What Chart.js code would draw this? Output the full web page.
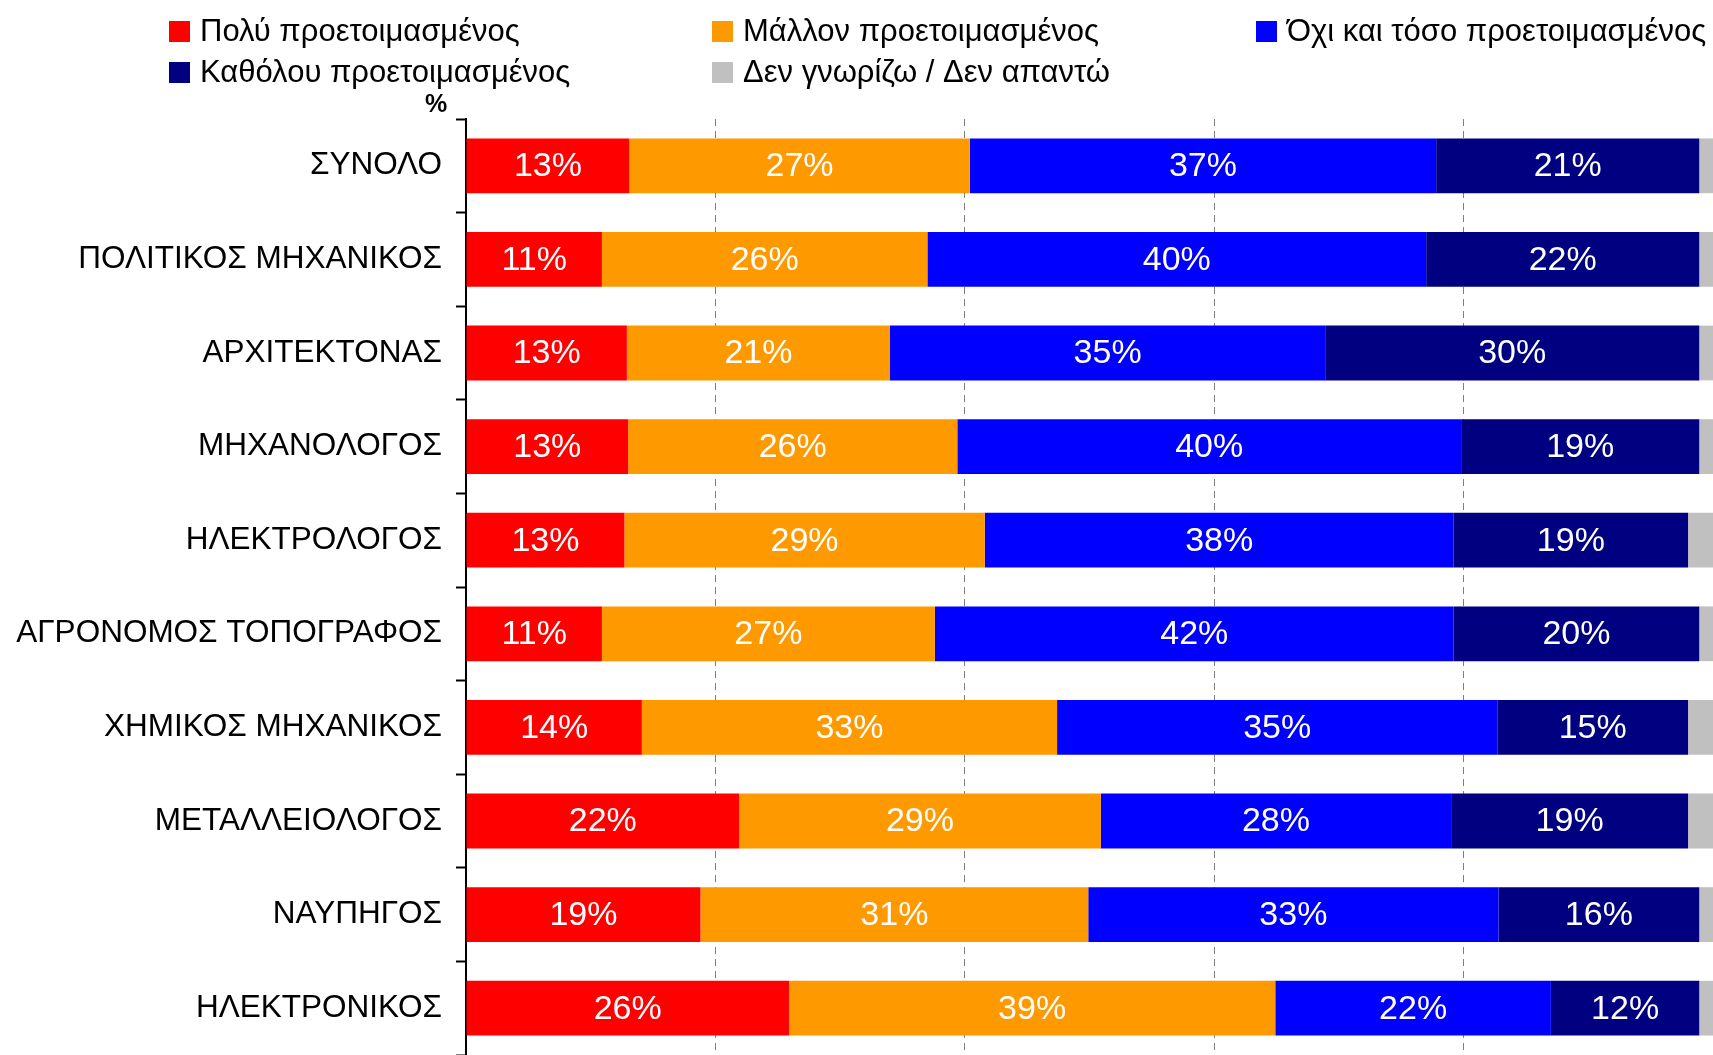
<!DOCTYPE html>
<html>
<head>
<meta charset="utf-8">
<script src="https://cdn.jsdelivr.net/npm/chart.js@4/dist/chart.umd.min.js"></script>
<style>
  html, body { margin: 0; padding: 0; background: #fff; }
  #wrap { width: 1713px; height: 1055px; position: relative; }
</style>
</head>
<body>
<div id="wrap"><canvas id="grafico"></canvas></div>
<script>
// categorias (eixo vertical)
const categorias = [
  'ΣΥΝΟΛΟ', 'ΠΟΛΙΤΙΚΟΣ ΜΗΧΑΝΙΚΟΣ', 'ΑΡΧΙΤΕΚΤΟΝΑΣ', 'ΜΗΧΑΝΟΛΟΓΟΣ', 'ΗΛΕΚΤΡΟΛΟΓΟΣ',
  'ΑΓΡΟΝΟΜΟΣ ΤΟΠΟΓΡΑΦΟΣ', 'ΧΗΜΙΚΟΣ ΜΗΧΑΝΙΚΟΣ', 'ΜΕΤΑΛΛΕΙΟΛΟΓΟΣ', 'ΝΑΥΠΗΓΟΣ', 'ΗΛΕΚΤΡΟΝΙΚΟΣ'
];

// series (%)
const poly      = [13.1, 10.9, 12.9, 13.0, 12.7, 10.9, 14.1, 21.9, 18.8, 25.9];
const mallon    = [27.3, 26.1, 21.1, 26.4, 28.9, 26.7, 33.3, 29.0, 31.1, 39.0];
const oxiToso   = [37.4, 40.0, 34.9, 40.4, 37.6, 41.6, 35.3, 28.1, 32.9, 22.1];
const katholou  = [21.1, 21.9, 30.0, 19.1, 18.8, 19.7, 15.3, 19.0, 16.1, 11.9];
const denXero   = [1.1, 1.1, 1.1, 1.1, 2.0, 1.1, 2.0, 2.0, 1.1, 1.1];

const nomesSeries = [
  'Πολύ προετοιμασμένος', 'Μάλλον προετοιμασμένος', 'Όχι και τόσο προετοιμασμένος',
  'Καθόλου προετοιμασμένος', 'Δεν γνωρίζω / Δεν απαντώ'
];
const ticksX = [0, 20, 40, 60, 80, 100];

const cores = ['#FF0000', '#FF9900', '#0000FF', '#000080', '#C0C0C0'];
const FONTE = '"Liberation Sans", Arial, sans-serif';

// legenda desenhada à mão (3 colunas, 2 linhas)
const legendaPlugin = {
  id: 'legendaFixa',
  afterDraw(chart) {
    const ctx = chart.ctx;
    const colX = [169, 712, 1256];
    const rowY = [31, 72];
    ctx.save();
    ctx.font = '31px ' + FONTE;
    ctx.textBaseline = 'middle';
    ctx.textAlign = 'left';
    chart.data.datasets.forEach((ds, i) => {
      const x = colX[i % 3];
      const y = rowY[Math.floor(i / 3)];
      ctx.fillStyle = ds.backgroundColor;
      ctx.fillRect(x, y - 10, 21, 21);
      ctx.fillStyle = '#000';
      ctx.fillText(ds.label, x + 31, y + 1);
    });
    // símbolo % acima do eixo
    ctx.font = 'bold 25px ' + FONTE;
    ctx.textAlign = 'center';
    ctx.fillText('%', 436, 105);
    ctx.restore();
  }
};

// rótulos brancos dentro das barras
const rotulosPlugin = {
  id: 'rotulos',
  afterDatasetsDraw(chart) {
    const ctx = chart.ctx;
    ctx.save();
    ctx.font = '34px ' + FONTE;
    ctx.fillStyle = '#fff';
    ctx.textAlign = 'center';
    ctx.textBaseline = 'middle';
    chart.data.datasets.forEach((ds, i) => {
      if (i === 4) return; // sem rótulo para "Δεν γνωρίζω"
      chart.getDatasetMeta(i).data.forEach((bar, j) => {
        const v = ds.data[j];
        ctx.fillText(Math.round(v) + '%', (bar.x + bar.base) / 2, bar.y + 1);
      });
    });
    ctx.restore();
  }
};

const series = [poly, mallon, oxiToso, katholou, denXero];

new Chart(document.getElementById('grafico').getContext('2d'), {
  type: 'bar',
  data: {
    labels: categorias,
    datasets: series.map((s, i) => ({
      label: nomesSeries[i],
      data: s,
      backgroundColor: cores[i],
      borderWidth: 0,
      barPercentage: 0.585,
      categoryPercentage: 1
    }))
  },
  options: {
    indexAxis: 'y',
    responsive: true,
    maintainAspectRatio: false,
    animation: false,
    layout: { padding: { top: 119, left: 0, right: 0, bottom: -6 } },
    plugins: {
      legend: { display: false },
      tooltip: { enabled: false }
    },
    scales: {
      x: {
        stacked: true,
        min: 0,
        max: 100,
        afterBuildTicks: (s) => { s.ticks = ticksX.map(v => ({ value: v })); },
        afterFit: (s) => { s.height = 0; },
        ticks: { display: false },
        border: { display: false, dash: [7, 5] },
        grid: {
          drawTicks: false,
          lineWidth: 1,
          color: (c) => (c.tick && (c.tick.value === 0 || c.tick.value === 100)) ? 'rgba(0,0,0,0)' : '#808080'
        }
      },
      y: {
        stacked: true,
        afterFit: (s) => {
          s.width = 466;
          s.paddingTop = 0;
          s.paddingBottom = 0;
        },
        ticks: {
          color: '#000',
          padding: 14,
          font: { family: FONTE, size: 31.5 }
        },
        border: { display: true, color: '#000', width: 2 },
        grid: {
          offset: true,
          drawOnChartArea: false,
          drawTicks: true,
          tickLength: 10,
          tickColor: '#000',
          tickWidth: 2
        }
      }
    }
  },
  plugins: [legendaPlugin, rotulosPlugin]
});
</script>
</body>
</html>
